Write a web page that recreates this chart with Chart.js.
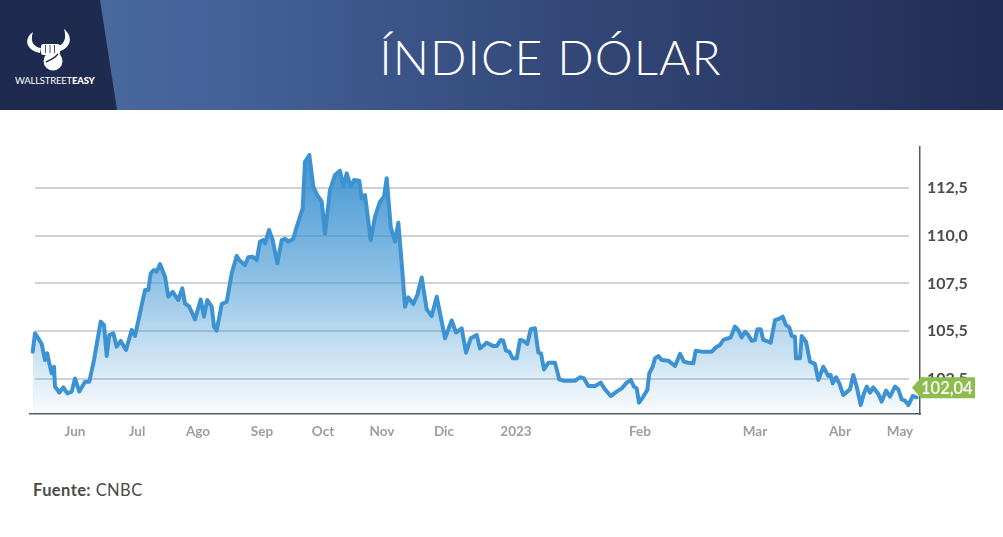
<!DOCTYPE html>
<html lang="es">
<head>
<meta charset="utf-8">
<title>Índice Dólar</title>
<script src="https://cdn.jsdelivr.net/npm/chart.js@4.4.1/dist/chart.umd.min.js"></script>
<style>
    html, body { margin: 0; padding: 0; background: #ffffff; }
    body { width: 1003px; height: 537px; position: relative; overflow: hidden; font-family: 'Lato', 'DejaVu Sans', sans-serif; }
    #header { position: absolute; left: 0; top: 0; width: 1003px; height: 110px;
        background: linear-gradient(90deg, #4d6d9e 0%, #45639a 20%, #34497a 55%, #212c54 100%); }
    #header .panel { position: absolute; left: 0; top: 0; width: 118px; height: 110px; background: #1f2a4f;
        clip-path: polygon(0 0, 100px 0, 117px 110px, 0 110px); }
    #header h1 { position: absolute; left: 108px; right: 0; top: 28px; margin: 0; text-align: center;
        color: #ffffff; font-family: 'Lato', sans-serif; font-weight: 300; font-size: 48px; letter-spacing: 1px; padding-right: 10px; }
    #logo { position: absolute; left: 14px; top: 26px; width: 80px; }
    #logo .brand { position: absolute; left: 1px; top: 49px; color: #ffffff; font-size: 9.5px; letter-spacing: -0.2px; white-space: nowrap; font-family: 'Lato', sans-serif; }
    #logo .brand b { font-weight: 900; }
    #chart-box { position: absolute; left: 0; top: 110px; width: 1003px; height: 345px; }
    #fuente { position: absolute; left: 33px; top: 480px; font-size: 16.5px; color: #4a4a4a; font-family: 'Lato', sans-serif; letter-spacing: 0.4px; }
    #fuente b { font-weight: 700; }
</style>
</head>
<body>
<div id="header">
    <div class="panel"></div>
    <div id="logo">
        <svg width="80" height="48" viewBox="0 0 80 48">
            <path d="M19 6 C10 12 11 24 26 27 L27 22 C19 21 16 15 19 6 Z" fill="#fff"/>
            <path d="M50 3 C60 11 57 23 43 26 L42 21 C50 19 53 13 50 3 Z" fill="#fff"/>
            <rect x="27" y="18" width="19" height="11" rx="2.5" fill="#fff"/>
            <circle cx="39" cy="35" r="9.5" fill="#fff"/>
            <path d="M32 36 C36 34 41 32 44 28" stroke="#1f2a4f" stroke-width="1.4" fill="none"/>
            <path d="M31.5 19 L31.5 27 M36 19 L36 27 M40.5 19 L40.5 27" stroke="#1f2a4f" stroke-width="0.8"/>
        </svg>
        <div class="brand">WALLSTREET<b>EASY</b></div>
    </div>
    <h1>ÍNDICE DÓLAR</h1>
</div>

<div id="chart-box"><canvas id="grafico"></canvas></div>

<div id="fuente"><b>Fuente:</b> CNBC</div>

<script>
    // Posición horizontal de cada lectura (unidades del eje, 0 = inicio del eje)
    const posiciones = [
        2.7, 5, 8.3, 11.7, 15, 17.3, 19.3, 21.7, 24, 25, 29.3, 33.3, 37.3, 41.7, 45, 49.3, 55, 59.3, 64, 70.7,
        74, 76.7, 79.3, 83.3, 86.7, 90.7, 96, 101.7, 105, 115, 118.3, 120.7, 124, 126.7, 130, 135, 138.3, 142.7, 148.3, 152.3,
        155, 159.3, 165, 170.7, 174, 177.3, 181.7, 184, 186.7, 191.7, 196.7, 201.7, 206.7, 210, 215, 218.3, 222.7, 226.7, 230, 233.3,
        235, 239, 242.7, 247.3, 251.7, 255, 258.3, 263.3, 266.7, 272.7, 275, 279.3, 283.3, 287.3, 291.7, 295, 300, 305, 310, 313.3,
        316.7, 320.7, 324, 329.3, 331.7, 335, 340.7, 345, 350, 354, 356.7, 360.7, 365, 368.3, 371.7, 375, 378.3, 383.3, 387.3, 391.7,
        396.7, 401.7, 406.7, 411.7, 415, 421.7, 426, 431.7, 436, 440.7, 446.7, 450, 456.7, 463.3, 466.7, 470.7, 473.3, 476, 479.3, 482.7,
        486.7, 490, 493.3, 497.3, 500.7, 505, 508.3, 511, 514, 518.3, 525, 529.3, 533.3, 545, 550, 554, 558.3, 565, 570.7, 575,
        580.7, 586.7, 591.7, 596.7, 600.7, 604, 606.7, 609, 613.3, 617.3, 619.3, 622.7, 625, 628.3, 631.7, 638.3, 645, 650, 654, 658.3,
        663.3, 665.7, 671.7, 681.7, 686, 690, 693.3, 698.3, 700.7, 705, 708.3, 711.7, 715, 718.3, 721.7, 725, 727.3, 730.7, 733.3, 738.3,
        740.7, 745, 750, 752.7, 756, 759.3, 761.7, 765, 766, 770, 771.7, 776, 780, 785, 788.3, 793.3, 798.3, 800.7, 802.7, 806,
        809.3, 813.3, 817.3, 820, 823.3, 826.7, 830.7, 834, 836.7, 840, 843.3, 848.3, 851.7, 856, 860, 865, 868.3, 871.7, 875, 878.3,
        882.7, 886.7
    ];

    const valores = [
        103.93, 104.89, 104.63, 104.33, 103.49, 103.84, 103.32, 102.80, 103.14, 102.10, 101.79, 102.06, 101.75, 101.84, 102.53, 101.84, 102.36, 102.36, 103.49, 105.50,
        105.32, 103.70, 104.80, 104.89, 104.19, 104.49, 104.02, 105.06, 104.75, 107.15, 107.15, 108.02, 108.20, 108.11, 108.51, 107.85, 106.80, 107.06, 106.63, 107.24,
        106.45, 106.28, 105.62, 106.66, 105.76, 106.63, 106.28, 105.24, 105.03, 106.42, 106.54, 108.02, 108.93, 108.68, 108.46, 108.86, 108.89, 108.72, 109.68, 109.76,
        109.59, 110.29, 109.76, 108.55, 109.76, 109.83, 109.68, 109.83, 110.46, 111.42, 113.86, 114.21, 112.55, 112.12, 111.77, 110.11, 112.38, 113.16, 113.39, 112.55,
        113.25, 112.55, 112.90, 112.87, 111.94, 112.12, 109.76, 110.98, 111.77, 112.03, 113.00, 110.46, 109.68, 110.67, 108.55, 106.28, 106.77, 106.42, 106.89, 107.81,
        106.14, 105.79, 106.80, 105.50, 104.63, 105.56, 104.93, 105.15, 103.88, 104.63, 104.80, 104.10, 104.40, 104.22, 104.22, 104.54, 104.50, 103.98, 103.93, 103.58,
        103.58, 104.54, 104.50, 104.33, 105.10, 105.15, 103.88, 103.84, 103.00, 103.35, 103.35, 102.48, 102.41, 102.41, 102.59, 102.53, 102.13, 102.13, 102.31, 101.96,
        101.61, 101.84, 102.01, 102.31, 102.45, 102.10, 102.01, 101.26, 101.58, 101.93, 102.80, 103.14, 103.58, 103.70, 103.49, 103.46, 103.18, 103.81, 103.41, 103.35,
        103.32, 103.98, 103.93, 103.93, 104.16, 104.28, 104.54, 104.63, 104.68, 105.24, 105.06, 104.68, 104.97, 104.80, 104.50, 104.54, 105.10, 105.10, 104.54, 104.45,
        104.40, 105.58, 105.67, 105.76, 105.32, 105.20, 104.75, 104.71, 103.58, 103.58, 104.75, 104.45, 103.41, 103.28, 102.45, 103.14, 102.66, 102.71, 102.27, 102.59,
        102.27, 101.66, 101.84, 101.96, 102.71, 102.10, 101.14, 101.75, 102.10, 101.79, 102.06, 101.72, 101.32, 101.89, 101.58, 102.10, 101.96, 101.44, 101.37, 101.14,
        101.61, 101.54
    ];

    // Etiquetas de meses y su posición en el eje
    const meses = ['Jun', 'Jul', 'Ago', 'Sep', 'Oct', 'Nov', 'Dic', '2023', 'Feb', 'Mar', 'Abr', 'May'];
    const mesesPos = [45, 107, 168, 232, 293, 352, 414, 486, 610, 725, 810, 870];

    // Eje vertical
    const yTicks = [102.5, 105, 107.5, 110, 112.5];
    const yEtiquetas = ['102,5', '105,5', '107,5', '110,0', '112,5'];
    const ultimoValor = 102.04;
    const ultimoTexto = '102,04';

    const puntos = posiciones.map((x, i) => ({ x: x, y: valores[i] }));

    // Líneas de rejilla que no llegan hasta el eje derecho
    const rejillaCorta = {
        id: 'rejillaCorta',
        beforeDatasetsDraw(chart) {
            const { ctx, chartArea, scales } = chart;
            ctx.save();
            ctx.strokeStyle = '#cfd3d8';
            ctx.lineWidth = 2;
            yTicks.forEach(v => {
                const y = Math.round(scales.y.getPixelForValue(v));
                ctx.beginPath();
                ctx.moveTo(chartArea.left + 5, y);
                ctx.lineTo(chartArea.right - 11, y);
                ctx.stroke();
            });
            ctx.restore();
        }
    };

    // Etiqueta verde con el último valor
    const etiquetaFinal = {
        id: 'etiquetaFinal',
        afterDraw(chart) {
            const { ctx, chartArea, scales } = chart;
            const y = scales.y.getPixelForValue(ultimoValor);
            const x0 = chartArea.right - 8;
            const h = 21, w = 63;
            ctx.save();
            ctx.fillStyle = '#8cbd4e';
            ctx.beginPath();
            ctx.moveTo(x0, y);
            ctx.lineTo(x0 + 9, y - h / 2);
            ctx.lineTo(x0 + w, y - h / 2);
            ctx.lineTo(x0 + w, y + h / 2);
            ctx.lineTo(x0 + 9, y + h / 2);
            ctx.closePath();
            ctx.fill();
            ctx.fillStyle = '#ffffff';
            ctx.font = '600 16.5px Lato, sans-serif';
            ctx.textBaseline = 'middle';
            ctx.fillText(ultimoTexto, x0 + 9, y + 1);
            ctx.restore();
        }
    };

    new Chart(document.getElementById('grafico'), {
        type: 'line',
        data: {
            datasets: [{
                data: puntos,
                borderColor: '#3d93d2',
                borderWidth: 4,
                borderJoinStyle: 'round',
                borderCapStyle: 'round',
                pointRadius: 0,
                tension: 0,
                fill: 'start',
                backgroundColor: (c) => {
                    const area = c.chart.chartArea;
                    if (!area) return 'rgba(61,147,210,0.4)';
                    const g = c.chart.ctx.createLinearGradient(0, area.top, 0, area.bottom);
                    g.addColorStop(0, 'rgba(61,147,210,1)');
                    g.addColorStop(0.45, 'rgba(61,147,210,0.62)');
                    g.addColorStop(1, 'rgba(61,147,210,0.03)');
                    return g;
                }
            }]
        },
        options: {
            responsive: true,
            maintainAspectRatio: false,
            animation: false,
            layout: { padding: { top: 37, left: 30, right: 0, bottom: 0 } },
            plugins: { legend: { display: false }, tooltip: { enabled: false } },
            scales: {
                x: {
                    type: 'linear',
                    min: 0,
                    max: 890,
                    grid: { drawOnChartArea: false, drawTicks: false },
                    border: { display: true, color: '#555a60', width: 1.5 },
                    afterBuildTicks: (s) => { s.ticks = mesesPos.map(v => ({ value: v })); },
                    afterFit: (s) => { s.height = 41; },
                    ticks: {
                        autoSkip: false,
                        maxRotation: 0,
                        padding: 10,
                        color: '#9b9da4',
                        font: { family: 'Lato, sans-serif', size: 13.5, weight: 'bold' },
                        callback: (v, i) => meses[i]
                    }
                },
                y: {
                    position: 'right',
                    min: 100.67,
                    max: 114.63,
                    grid: { drawOnChartArea: false, drawTicks: false },
                    border: { display: true, color: '#555a60', width: 1.5 },
                    afterBuildTicks: (s) => { s.ticks = yTicks.map(v => ({ value: v })); },
                    afterFit: (s) => { s.width = 83; },
                    ticks: {
                        padding: 7,
                        color: '#4a4c50',
                        font: { family: 'Lato, sans-serif', size: 16, weight: 'bold' },
                        callback: (v, i) => yEtiquetas[i]
                    }
                }
            }
        },
        plugins: [rejillaCorta, etiquetaFinal]
    });
</script>
</body>
</html>
